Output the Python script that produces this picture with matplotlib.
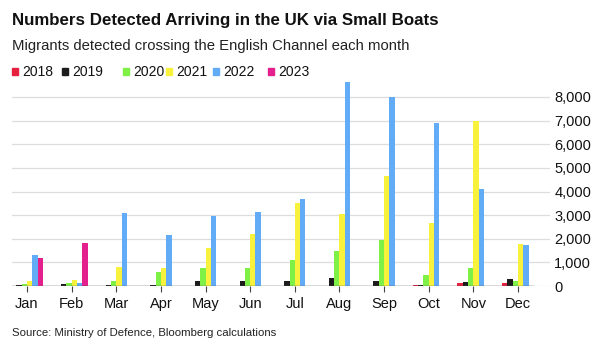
import matplotlib
matplotlib.use("Agg")
import matplotlib.pyplot as plt
import numpy as np

months = ["Jan", "Feb", "Mar", "Apr", "May", "Jun", "Jul", "Aug", "Sep", "Oct", "Nov", "Dec"]
years = ["2018", "2019", "2020", "2021", "2022", "2023"]
v2018 = [10, 10, 10, 10, 10, 10, 10, 20, 20, 30, 140, 130]
v2019 = [30, 80, 60, 60, 200, 200, 200, 350, 200, 60, 170, 300]
v2020 = [80, 140, 210, 610, 770, 770, 1120, 1490, 1940, 470, 770, 200]
v2021 = [210, 270, 820, 760, 1620, 2220, 3510, 3060, 4640, 2680, 6980, 1770]
v2022 = [1330, 130, 3080, 2170, 2970, 3150, 3680, 8650, 7980, 6900, 4090, 1745]
v2023 = [1190, 1800, np.nan, np.nan, np.nan, np.nan, np.nan, np.nan, np.nan, np.nan, np.nan, np.nan]
yticks = [0, 1000, 2000, 3000, 4000, 5000, 6000, 7000, 8000]
colors = ["#e5213f", "#1c1c1c", "#7ef046", "#f8f23c", "#62abf7", "#e3208c"]

series = [v2018, v2019, v2020, v2021, v2022, v2023]

plt.rcParams['font.family'] = ['Liberation Sans', 'DejaVu Sans']
W, H = 603, 351
fig = plt.figure(figsize=(W / 100, H / 100), dpi=100)

left_px, right_px, top_px, bot_px = 12, 550, 78, 286
ax = fig.add_axes([left_px / W, 1 - bot_px / H, (right_px - left_px) / W, (bot_px - top_px) / H])

px_per_unit = (518 - 27) / 11.0
x0 = -(27 - left_px) / px_per_unit
x1 = 11 + (right_px - 518) / px_per_unit
ax.set_xlim(x0, x1)
ymax = (bot_px - top_px) / ((286 - 97) / 8000.0)
ax.set_ylim(0, ymax)

bw = 5.3 / px_per_unit
x = np.arange(len(months))
for i, (vals, c) in enumerate(zip(series, colors)):
    ax.bar(x + (i - 2.5) * bw, vals, width=bw, color=c, linewidth=0, zorder=3)

ax.set_yticks(yticks)
ax.set_yticklabels([f"{t:,}" for t in yticks])
ax.yaxis.tick_right()
ax.tick_params(axis='y', length=0, pad=3, labelsize=10.5, labelcolor="#111111")
for lab in ax.get_yticklabels():
    lab.set_horizontalalignment('left')
ax.grid(axis='y', color="#dddddd", linewidth=0.9, zorder=0)
ax.set_xticks(x)
ax.set_xticklabels(months)
ax.tick_params(axis='x', length=4, width=0.8, color="#444444", pad=4, labelsize=10.5, labelcolor="#111111")
for s in ax.spines.values():
    s.set_visible(False)
frac = (533 - left_px) / (right_px - left_px)
ax.axhline(0, xmin=0, xmax=frac, color="#555555", linewidth=1.0, zorder=4)

fig.text(12 / W, 1 - 20 / H, "Numbers Detected Arriving in the UK via Small Boats",
         fontsize=12.2, fontweight='bold', va='center', ha='left', color="#111111")
fig.text(12 / W, 1 - 46 / H, "Migrants detected crossing the English Channel each month",
         fontsize=10.7, va='center', ha='left', color="#222222")

leg_x = [12, 62, 123, 166, 213, 268]
for lx, yr, c in zip(leg_x, years, colors):
    fig.patches.append(matplotlib.patches.Rectangle((lx / W, 1 - 75 / H), 6 / W, 7 / H,
                                                    transform=fig.transFigure, color=c, figure=fig))
    fig.text((lx + 10) / W, 1 - 71.5 / H, yr, fontsize=10, va='center', ha='left', color="#111111")

fig.text(12 / W, 1 - 333 / H, "Source: Ministry of Defence, Bloomberg calculations",
         fontsize=8.2, va='center', ha='left', color="#222222")

fig.savefig("out.png", dpi=100, facecolor="white")
